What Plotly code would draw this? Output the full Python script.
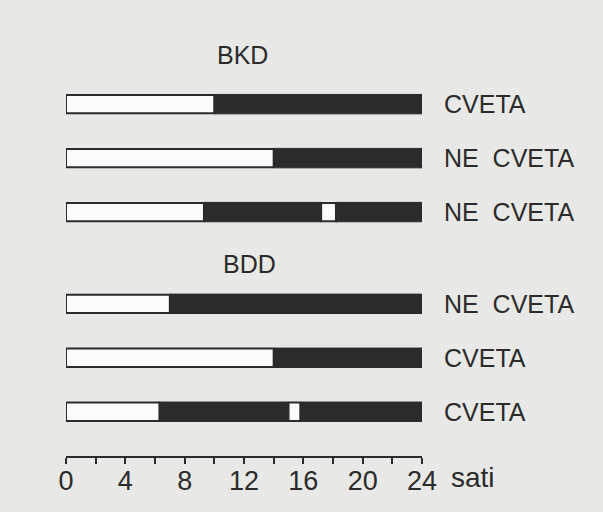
import plotly.graph_objects as go

# ---- data ----
groups = ["BKD", "BDD"]
group_rows = [0, 0, 0, 1, 1, 1]                      # group index for each row
row_labels = ["CVETA", "NE\u00a0\u00a0CVETA", "NE\u00a0\u00a0CVETA", "NE\u00a0\u00a0CVETA", "CVETA", "CVETA"]
light_end = [10, 14, 9.3, 7, 14, 6.3]                 # hours of light from 0
break_start = [None, None, 17.2, None, None, 15.0]    # night-break light start
break_end = [None, None, 18.2, None, None, 15.8]      # night-break light end
day_length = 24
tick_vals = [0, 4, 8, 12, 16, 20, 24]
tick_text = ["0", "4", "8", "12", "16", "20", "24"]
unit_label = "sati"

# ---- layout helpers ----
GROUP_GAP = 3.7
ink = "#2b2b2b"
FONT = "Liberation Sans, Arial, sans-serif"
NARROW = "Liberation Sans Narrow, Arial Narrow, Liberation Sans, sans-serif"
ypos = [i - 3 * g + g * GROUP_GAP for i, g in enumerate(group_rows)]

light_y, light_base, light_len = [], [], []
dark_y, dark_base, dark_len = [], [], []
for y, le, bs, be in zip(ypos, light_end, break_start, break_end):
    light_y.append(y); light_base.append(0); light_len.append(le)
    if bs is None:
        dark_y.append(y); dark_base.append(le); dark_len.append(day_length - le)
    else:
        dark_y.append(y); dark_base.append(le); dark_len.append(bs - le)
        light_y.append(y); light_base.append(bs); light_len.append(be - bs)
        dark_y.append(y); dark_base.append(be); dark_len.append(day_length - be)

fig = go.Figure()
fig.add_trace(go.Bar(orientation="h", y=light_y, x=light_len, base=light_base,
                     width=0.34, marker=dict(color="#fbfbfb", line=dict(color=ink, width=2)),
                     showlegend=False, hoverinfo="skip"))
fig.add_trace(go.Bar(orientation="h", y=dark_y, x=dark_len, base=dark_base,
                     width=0.36, marker=dict(color=ink, line=dict(color=ink, width=1)),
                     showlegend=False, hoverinfo="skip"))

annotations = []
for y, lab in zip(ypos, row_labels):
    annotations.append(dict(x=1.057, y=y, xref="paper", yref="y", text=lab, showarrow=False,
                            xanchor="left", yanchor="middle",
                            font=dict(family=FONT, size=25, color=ink)))
group_pos = [(11.9, -0.91), (12.4, 2.96)]
for name, (gx, gy) in zip(groups, group_pos):
    annotations.append(dict(x=gx, y=gy, xref="x", yref="y", text=name, showarrow=False,
                            xanchor="center", yanchor="middle",
                            font=dict(family=FONT, size=25, color=ink)))
annotations.append(dict(x=1.077, y=-0.048, xref="paper", yref="paper", text=unit_label,
                        showarrow=False, xanchor="left", yanchor="middle",
                        font=dict(family=FONT, size=28, color=ink)))

fig.update_layout(
    width=603, height=512,
    margin=dict(l=66, r=181, t=0, b=56),
    paper_bgcolor="#e8e8e6", plot_bgcolor="rgba(0,0,0,0)",
    barmode="overlay",
    annotations=annotations,
    xaxis=dict(range=[0, day_length], tickvals=tick_vals, ticktext=tick_text,
               ticks="outside", ticklen=6, tickwidth=1.5, tickcolor=ink,
               minor=dict(dtick=2, ticks="outside", ticklen=6, tickwidth=1.5, tickcolor=ink),
               showline=True, linecolor=ink, linewidth=1.5, showgrid=False, zeroline=False,
               tickfont=dict(family=NARROW, size=27, color=ink), ticklabelstandoff=-6,
               fixedrange=True),
    yaxis=dict(range=[6.52, -1.93], visible=False, showgrid=False, zeroline=False, fixedrange=True),
)
fig.write_html("out.html", config={"displayModeBar": False},
               post_script="document.body.style.margin='0';document.body.style.overflow='hidden';")
